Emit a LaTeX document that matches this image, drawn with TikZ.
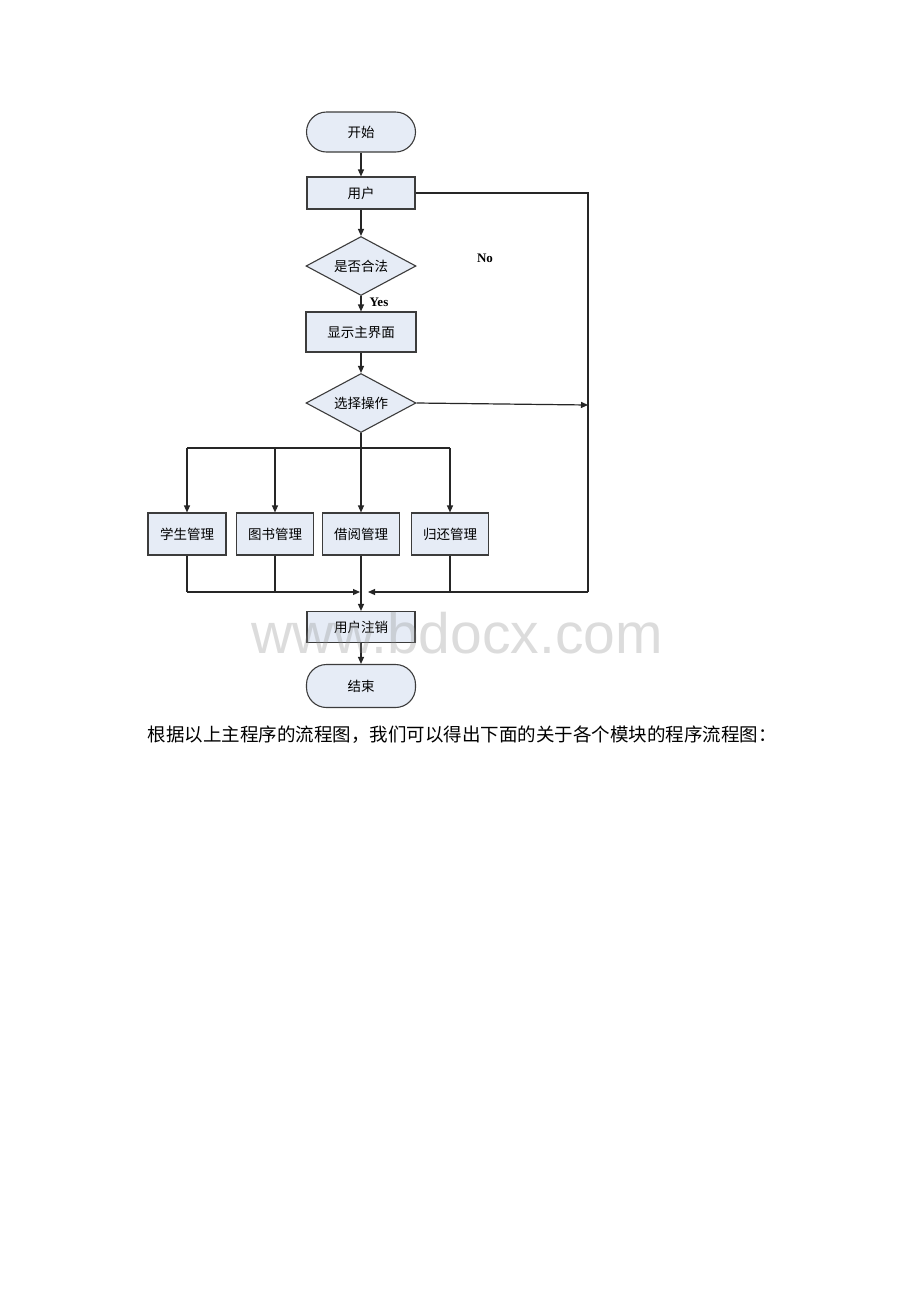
\documentclass[tikz,border=0pt]{standalone}
\usepackage{fontspec}
\setmainfont{Liberation Serif}
\newfontfamily\cjk{Noto Sans CJK SC}
\newfontfamily\wmfont{Liberation Sans}
\usetikzlibrary{shapes.geometric,arrows.meta}
\definecolor{boxfill}{HTML}{E6ECF6}
\definecolor{boxline}{HTML}{3C3C3C}
\tikzset{
  box/.style={draw=boxline,fill=boxfill,line width=1.1pt,inner sep=0pt,
    font=\cjk\fontsize{13.5}{15}\selectfont},
  proc/.style={box,rectangle},
  term/.style={box,rectangle,rounded corners=20pt},
  decision/.style={box,diamond,aspect=1.86,minimum width=110pt,minimum height=59pt},
  arr/.style={-{Triangle[length=7pt,width=6pt]}},
  line/.style={draw=black!85,line width=1.2pt}
}
\begin{document}
\begin{tikzpicture}[x=1pt,y=-1pt]
      \useasboundingbox[fill=white] (0,0) rectangle (920,1302);
      \draw
        (361,132) node[term,minimum width=109pt,minimum height=40pt] (start){开始}
        (361,193) node[proc,minimum width=108pt,minimum height=32pt] (user){用户}
        (361,266) node[decision] (legal){是否合法}
        (361,332) node[proc,minimum width=110pt,minimum height=40pt] (main){显示主界面}
        (361,403) node[decision] (choose){选择操作}
        (187,534) node[proc,minimum width=78pt,minimum height=42pt] (stu){学生管理}
        (275,534) node[proc,minimum width=77pt,minimum height=42pt] (book){图书管理}
        (361,534) node[proc,minimum width=77pt,minimum height=42pt] (borrow){借阅管理}
        (450,534) node[proc,minimum width=77pt,minimum height=42pt] (ret){归还管理}
        (361,627) node[proc,minimum width=108pt,minimum height=31pt] (logout){用户注销}
        (361,686) node[term,minimum width=109pt,minimum height=43pt] (end){结束};
      \coordinate (split) at (361,448);
      \coordinate (merge) at (361,592);
      \coordinate (rt) at (588,592);
      \coordinate (hit) at (588,405);
      \node[font=\bfseries\fontsize{13}{15}\selectfont,anchor=west] (yes) at (366,302) {Yes};
      \node[font=\bfseries\fontsize{13}{15}\selectfont] (no) at (485,258) {No};
      \begin{scope}[line]
        \draw[arr] (start) to (user);
        \draw[arr] (user) to (legal);
        \draw[arr] (legal) to (main);
        \draw[arr] (main) to (choose);
        \draw[arr] (choose.east) to (hit);
        \draw (choose.south) to (split);
        \draw (stu.north |- split) to (ret.north |- split);
        \foreach \m in {stu,book,borrow,ret}
          \draw[arr] (\m.north |- split) to (\m);
        \foreach \m in {stu,book,ret}
          \draw (\m.south) to (\m.south |- merge);
        \draw[arr] (borrow.south) to (logout);
        \draw[arr] (stu.south |- merge) to ([xshift=-1pt]merge);
        \draw (user.east) -| (rt);
        \draw[arr] (rt) to ([xshift=7pt]merge);
        \draw[arr] (logout) to (end);
      \end{scope}
      \node[anchor=west,font=\cjk\fontsize{18.5}{20}\selectfont] (caption) at (144,735)
        {根据以上主程序的流程图，我们可以得出下面的关于各个模块的程序流程图：};
      \node[font=\wmfont\fontsize{57}{60}\selectfont,text=black!45,opacity=0.3] (mark) at (457,633) {www.bdocx.com};
    \end{tikzpicture}
\end{document}
